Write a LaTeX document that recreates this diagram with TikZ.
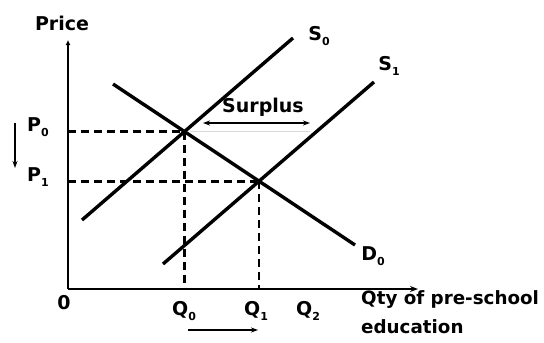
\documentclass[tikz,border=0pt]{standalone}
\usepackage{fontspec}
\setmainfont{DejaVu Sans}
\usetikzlibrary{arrows.meta,calc}
\newcommand{\subs}[1]{\raisebox{-0.45ex}{\fontsize{11}{11}\selectfont\bfseries #1}}
\tikzset{
  lbl/.style={font=\fontsize{19}{21}\selectfont\bfseries, inner sep=0pt},
  axislbl/.style={font=\fontsize{18.3}{20}\selectfont\bfseries, inner sep=0pt, anchor=west},
  curve/.style={line width=3.4pt},
  axisline/.style={line width=2.3pt},
  guide/.style={line width=2.8pt, dash pattern=on 8pt off 5pt},
  smallarrow/.style={line width=1.8pt, -{Stealth[length=7pt,width=5pt]}},
}
\begin{document}
\begin{tikzpicture}[x=1pt,y=-1pt]
\useasboundingbox (0,0) rectangle (544,343);
% key points
\coordinate (O) at (68,289);
\coordinate (ytop) at (68,40);
\coordinate (xend) at (418,289);
\coordinate (Da) at (113,84);
\coordinate (Db) at (355,245);
\coordinate (S0a) at (82,220);
\coordinate (S0b) at (293,38);
\coordinate (S1a) at (163,264);
\coordinate (S1b) at (374,82);
\coordinate (E0) at (intersection of S0a--S0b and Da--Db);
\coordinate (E1) at (intersection of S1a--S1b and Da--Db);
\coordinate (P0) at (O |- E0);
\coordinate (P1) at (O |- E1);
\coordinate (Q0) at (E0 |- O);
\coordinate (Q1) at (E1 |- O);
% guides
\draw[guide] (P0) -- (E0);
\draw[guide] (E0) -- (Q0);
\draw[guide] (P1) -- (E1);
\draw[guide] (E1) -- (Q1);
\coordinate (fa) at (190,131);
\coordinate (fb) at (310,131);
\draw[gray!30, line width=0.8pt] (fa) -- (fb);
% axes
\draw[axisline, -{Latex[length=5pt,width=5pt]}] (O) -- (ytop);
\draw[axisline, -{Stealth[length=8pt,width=6pt]}] (O) -- (xend);
% curves
\draw[curve] (S0a) -- (S0b);
\draw[curve] (S1a) -- (S1b);
\draw[curve] (Da) -- (Db);
% surplus arrow
\coordinate (sa) at (203,123);
\coordinate (sb) at (310,123);
\draw[line width=1.4pt, {Stealth[length=7pt,width=5pt]}-{Stealth[length=7pt,width=5pt]}] (sa) -- (sb);
% small arrows
\coordinate (pa) at (15,123);
\coordinate (pb) at (15,168);
\draw[smallarrow] (pa) -- (pb);
\coordinate (qa) at (188,330);
\coordinate (qb) at (258,330);
\draw[smallarrow] (qa) -- (qb);
% labels
\node[lbl] (price) at (62,23) {Price};
\node[lbl] (s0) at (319,36) {S\subs{0}};
\node[lbl] (s1) at (389,66) {S\subs{1}};
\node[lbl] (surplus) at (263,107) {Surplus};
\node[lbl] (p0l) at (38,127) {P\subs{0}};
\node[lbl] (p1l) at (38,177) {P\subs{1}};
\node[lbl] (d0) at (373,256) {D\subs{0}};
\node[lbl] (zero) at (64,303) {0};
\node[lbl] (q0l) at (184,311) {Q\subs{0}};
\node[lbl] (q1l) at (256,311) {Q\subs{1}};
\node[lbl] (q2l) at (308,311) {Q\subs{2}};
\node[axislbl] (qty1) at (361,300) {Qty of pre-school};
\node[axislbl] (qty2) at (361,327) {education};
\end{tikzpicture}
\end{document}
